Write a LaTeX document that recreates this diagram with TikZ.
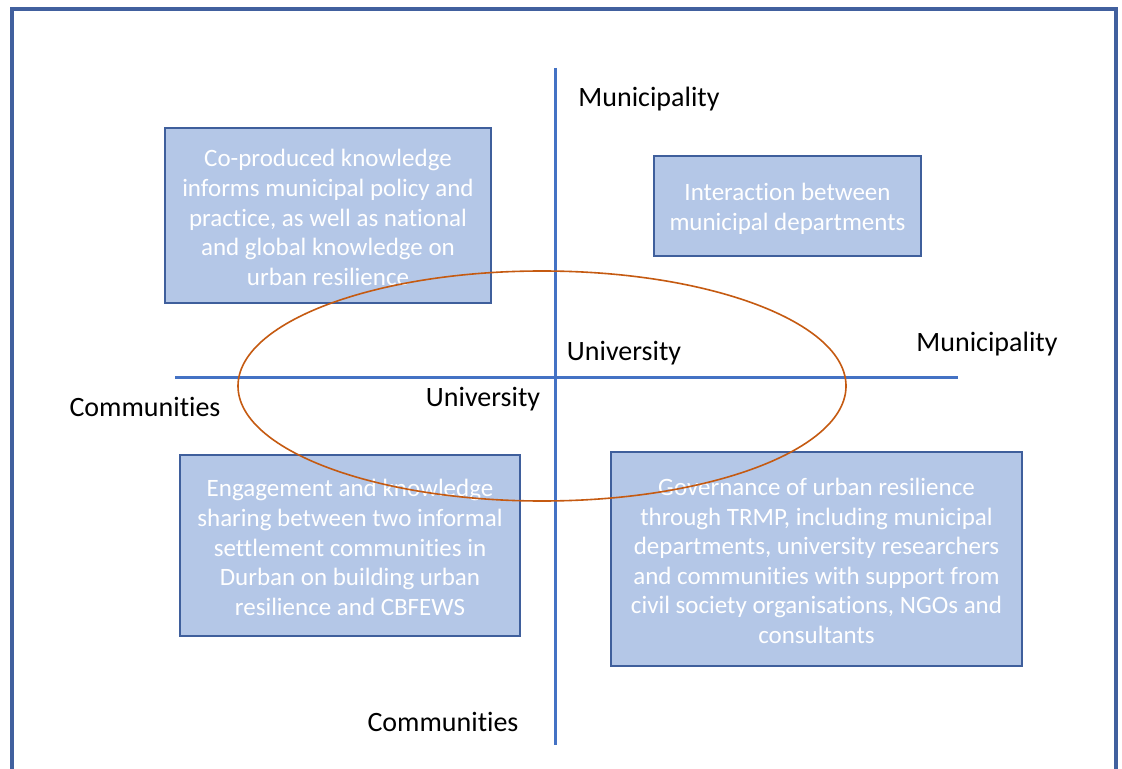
\documentclass[tikz,border=0pt]{standalone}
\usepackage{fontspec}
\setmainfont{Carlito}[Ligatures=NoCommon]
\definecolor{frameblue}{HTML}{41609E}
\definecolor{axisblue}{HTML}{4472C4}
\definecolor{boxfill}{HTML}{B4C7E7}
\definecolor{boxline}{HTML}{3F5F9C}
\definecolor{ringorange}{HTML}{C55A11}
\tikzset{
  infobox/.style={draw=boxline, line width=0.8pt, fill=boxfill, inner sep=0pt, outer sep=0pt},
  boxtext/.style={text=white, align=center, inner sep=0pt, font=\fontsize{12.5}{14.8}\selectfont},
  axislabel/.style={inner sep=0pt, font=\fontsize{14}{16}\selectfont, text=black},
  axisline/.style={draw=axisblue, line width=1.5pt},
}
\begin{document}
\begin{tikzpicture}[x=0.5pt, y=-0.5pt]
\useasboundingbox (0,0) rectangle (1122,769);
\clip (0,0) rectangle (1122,769);
\fill[white] (0,0) rectangle (1122,769);
% outer frame
\draw[frameblue, line width=1.6pt] (12,800) -- (12,9) -- (1116,9) -- (1116,800);
% axes
\coordinate (vtop) at (555,68);
\coordinate (vbot) at (555,745);
\coordinate (hleft) at (175,378);
\coordinate (hright) at (958,378);
\draw[axisline] (vtop) -- (vbot);
\draw[axisline] (hleft) -- (hright);
% boxes
\node[infobox, minimum width=163pt, minimum height=87.5pt] (b1) at (328,215.5) {};
\node[boxtext] (t1) at ([yshift=-1pt]b1.center)
  {Co-produced knowledge\\informs municipal policy and\\practice, as well as national\\and global knowledge on\\urban resilience};
\node[infobox, minimum width=133.5pt, minimum height=50pt] (b2) at (787.5,206) {};
\node[boxtext] (t2) at ([yshift=-1.5pt]b2.center)
  {Interaction between\\municipal departments};
\node[infobox, minimum width=170pt, minimum height=90.5pt] (b3) at (350,545.5) {};
\node[boxtext] (t3) at ([yshift=-1pt]b3.center)
  {Engagement and knowledge\\sharing between two informal\\settlement communities in\\Durban on building urban\\resilience and CBFEWS};
\node[infobox, minimum width=205.5pt, minimum height=107pt] (b4) at (816.5,559) {};
\node[boxtext] (t4) at ([yshift=-1pt]b4.center)
  {Governance of urban resilience\\through TRMP, including municipal\\departments, university researchers\\and communities with support from\\civil society organisations, NGOs and\\consultants};
% ellipse
\draw[ringorange, line width=0.8pt] (542,386) ellipse [x radius=152pt, y radius=57.5pt];
% labels
\node[axislabel] (m1) at (649,99) {Municipality};
\node[axislabel] (m2) at (987,344) {Municipality};
\node[axislabel] (u1) at (624,353) {University};
\node[axislabel] (u2) at (483,399) {University};
\node[axislabel] (c1) at (145,407) {Communities};
\node[axislabel] (c2) at (443,722) {Communities};
\end{tikzpicture}
\end{document}
